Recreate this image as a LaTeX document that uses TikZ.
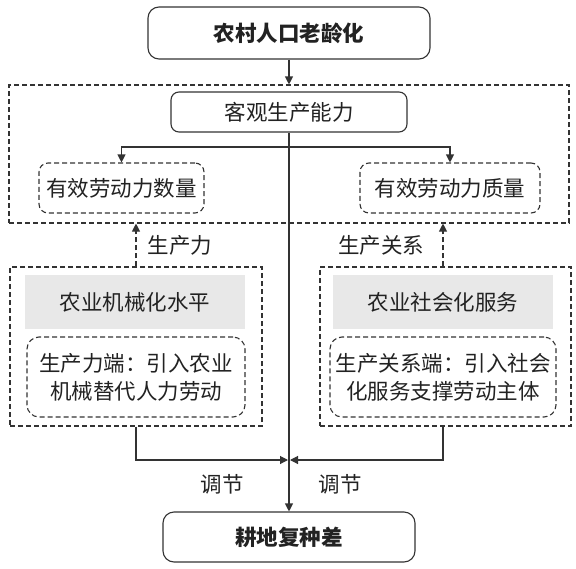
\documentclass[tikz,border=0pt]{standalone}
\usepackage{fontspec}
\newfontfamily\cjk{Noto Sans CJK SC}
\usetikzlibrary{arrows.meta,positioning}
\definecolor{ln}{HTML}{333333}
\definecolor{tx}{HTML}{222222}
\definecolor{gbox}{HTML}{E8E8E8}
\tikzset{
  txt/.style={font=\cjk\fontsize{21.5}{28}\selectfont, text=tx, inner sep=0pt, align=center},
  solidbox/.style={txt, draw=ln, line width=1.1pt, rounded corners=11pt},
  dbox/.style={txt, draw=ln, line width=1.1pt, dash pattern=on 5pt off 3pt, rounded corners=9pt},
  frame/.style={draw=ln, line width=1.1pt, dash pattern=on 5pt off 3pt, inner sep=0pt},
  graybox/.style={txt, fill=gbox, inner sep=0pt},
  conn/.style={draw=ln, line width=1.1pt},
  arr/.style={conn, -{Triangle[length=8pt,width=8pt]}},
  darr/.style={draw=ln, line width=1.1pt, dash pattern=on 5pt off 3pt, -{Triangle[length=8pt,width=8pt]}},
}
\begin{document}
\begin{tikzpicture}[x=1pt,y=-1pt]
\useasboundingbox (0,0) rectangle (576,568);
% top
\node[solidbox, minimum width=282pt, minimum height=52pt, font=\cjk\bfseries\fontsize{21.5}{26}\selectfont] (top) at (289,33) {农村人口老龄化};
% big frame
\node[frame, minimum width=560pt, minimum height=138pt] (big) at (289,154) {};
\node[solidbox, rounded corners=8pt, minimum width=236pt, minimum height=40pt] (kg) at (289,112) {客观生产能力};
\node[dbox, minimum width=165pt, minimum height=50pt] (sl) at (121.5,188) {有效劳动力数量};
\node[dbox, minimum width=180pt, minimum height=50pt] (sr) at (450,188) {有效劳动力质量};
% lower frames
\node[frame, minimum width=252pt, minimum height=159pt] (lf) at (136,346.5) {};
\node[frame, minimum width=251pt, minimum height=159pt] (rf) at (445.5,346.5) {};
\node[graybox, minimum width=220pt, minimum height=54pt] (lg) at (135,302) {农业机械化水平};
\node[graybox, minimum width=220pt, minimum height=54pt] (rg) at (443,302) {农业社会化服务};
\node[dbox, rounded corners=12pt, minimum width=218pt, minimum height=80pt] (li) at (136,377) {生产力端：引入农业\\机械替代人力劳动};
\node[dbox, rounded corners=12pt, minimum width=226pt, minimum height=80pt] (ri) at (443,377) {生产关系端：引入社会\\化服务支撑劳动主体};
% bottom
\node[solidbox, minimum width=252pt, minimum height=50pt, font=\cjk\bfseries\fontsize{21.5}{26}\selectfont] (bot) at (289,537) {耕地复种差};
% labels
\node[txt] (lbl1) at (180,245) {生产力};
\node[txt] (lbl2) at (381,245) {生产关系};
\node[txt] (lbl3) at (222,484) {调节};
\node[txt] (lbl4) at (340,484) {调节};
% coordinates
\coordinate (split) at (289,147);
\coordinate (jl) at (136,460);
\coordinate (jr) at (443,460);
\coordinate (ml) at (288,460);
\coordinate (mr) at (290,460);
% connectors
\draw[arr] (top.south) -- (big.north);
\draw[arr] (kg.south) -- (bot.north);
\draw[arr] (split) -| (sl.north);
\draw[arr] (split) -| (sr.north);
\draw[darr] (lf.north -| jl) -- (big.south -| jl);
\draw[darr] (rf.north -| jr) -- (big.south -| jr);
\draw[arr] (lf.south -| jl) -- (jl) -- (ml);
\draw[arr] (rf.south -| jr) -- (jr) -- (mr);
\end{tikzpicture}
\end{document}
